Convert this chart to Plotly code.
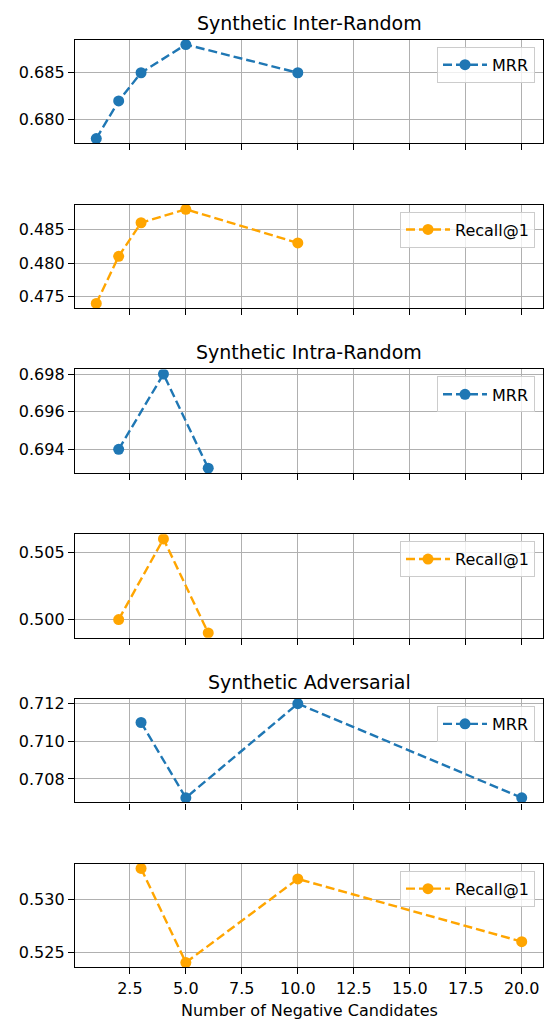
import plotly.graph_objects as go

# ---- data ----
x_inter = [1, 2, 3, 5, 10]
mrr_inter = [0.678, 0.682, 0.685, 0.688, 0.685]
r1_inter = [0.474, 0.481, 0.486, 0.488, 0.483]

x_intra = [2, 4, 6]
mrr_intra = [0.694, 0.698, 0.693]
r1_intra = [0.500, 0.506, 0.499]

x_adv = [3, 5, 10, 20]
mrr_adv = [0.711, 0.707, 0.712, 0.707]
r1_adv = [0.533, 0.524, 0.532, 0.526]

titles = ["Synthetic Inter-Random", "Synthetic Intra-Random", "Synthetic Adversarial"]
metric_names = ["MRR", "Recall@1"]
x_label = "Number of Negative Candidates"

# ---- layout constants (pixels) ----
W, H = 546, 1019
LEFT, RIGHT = 75, 543
TOP0, PERIOD, AX_H = 35, 165.6, 104
FONT = "DejaVu Sans"
COLORS = ["#1f77b4", "#ffa500"]
Y_DTICKS = [0.005, 0.005, 0.002, 0.005, 0.002, 0.005]
GRID = "#b0b0b0"

groups = [(x_inter, mrr_inter, r1_inter),
          (x_intra, mrr_intra, r1_intra),
          (x_adv, mrr_adv, r1_adv)]

all_x = x_inter + x_intra + x_adv
xspan = max(all_x) - min(all_x)
x_range = [min(all_x) - 0.05 * xspan, max(all_x) + 0.05 * xspan]

fig = go.Figure()
layout = dict(
    width=W, height=H,
    margin=dict(l=0, r=0, t=0, b=0),
    paper_bgcolor="white", plot_bgcolor="white",
    font=dict(family=FONT, size=16, color="black"),
    showlegend=True,
)
annotations = []

for g, (xs, m, r) in enumerate(groups):
    for k, ys in enumerate([m, r]):
        i = 2 * g + k
        n = i + 1
        sfx = "" if n == 1 else str(n)
        fig.add_trace(go.Scatter(
            x=xs, y=ys, mode="lines+markers", name=metric_names[k],
            line=dict(color=COLORS[k], width=2.4, dash="9px,4px"),
            marker=dict(color=COLORS[k], size=11),
            xaxis="x" + sfx, yaxis="y" + sfx, legend="legend" + sfx,
        ))
        ytop = TOP0 + PERIOD * i
        ybot = ytop + AX_H
        lo, hi = min(ys), max(ys)
        pad = 0.05 * (hi - lo)
        layout["xaxis" + sfx] = dict(
            domain=[LEFT / W, RIGHT / W], anchor="y" + sfx,
            range=x_range, tick0=0, dtick=2.5, tickformat=".1f",
            showticklabels=(n == 6),
            ticks="outside", ticklen=6, tickwidth=1.3, tickcolor="black",
            showgrid=True, gridcolor=GRID, gridwidth=1.3,
            showline=True, linecolor="black", linewidth=1.3, mirror=True,
            zeroline=False, tickfont=dict(size=16, family=FONT, color="black"),
        )
        layout["yaxis" + sfx] = dict(
            domain=[1 - ybot / H, 1 - ytop / H], anchor="x" + sfx,
            range=[lo - pad, hi + pad], tick0=0, dtick=Y_DTICKS[i], tickformat=".3f",
            ticks="outside", ticklen=6, tickwidth=1.3, tickcolor="black",
            showgrid=True, gridcolor=GRID, gridwidth=1.3,
            showline=True, linecolor="black", linewidth=1.3, mirror=True,
            zeroline=False, tickfont=dict(size=16, family=FONT, color="black"),
        )
        layout["legend" + sfx] = dict(
            x=535 / W, y=1 - (ytop + 7) / H, xanchor="right", yanchor="top",
            xref="paper", yref="paper", itemwidth=44,
            bgcolor="rgba(255,255,255,0.8)", bordercolor="#cccccc", borderwidth=1,
            font=dict(size=16, family=FONT, color="black"),
        )
        if k == 0:
            annotations.append(dict(
                text=titles[g], x=(LEFT + RIGHT) / 2 / W, y=1 - (ytop - 17) / H,
                xref="paper", yref="paper", xanchor="center", yanchor="middle",
                showarrow=False, font=dict(size=19, family=FONT, color="black"),
            ))

annotations.append(dict(
    text=x_label, x=(LEFT + RIGHT) / 2 / W, y=1 - 1010 / H,
    xref="paper", yref="paper", xanchor="center", yanchor="middle",
    showarrow=False, font=dict(size=16, family=FONT, color="black"),
))
layout["annotations"] = annotations
fig.update_layout(**layout)

fig.write_html(
    "out.html",
    config={"displayModeBar": False},
    post_script="document.body.style.margin='0';document.body.style.overflow='hidden';",
)
